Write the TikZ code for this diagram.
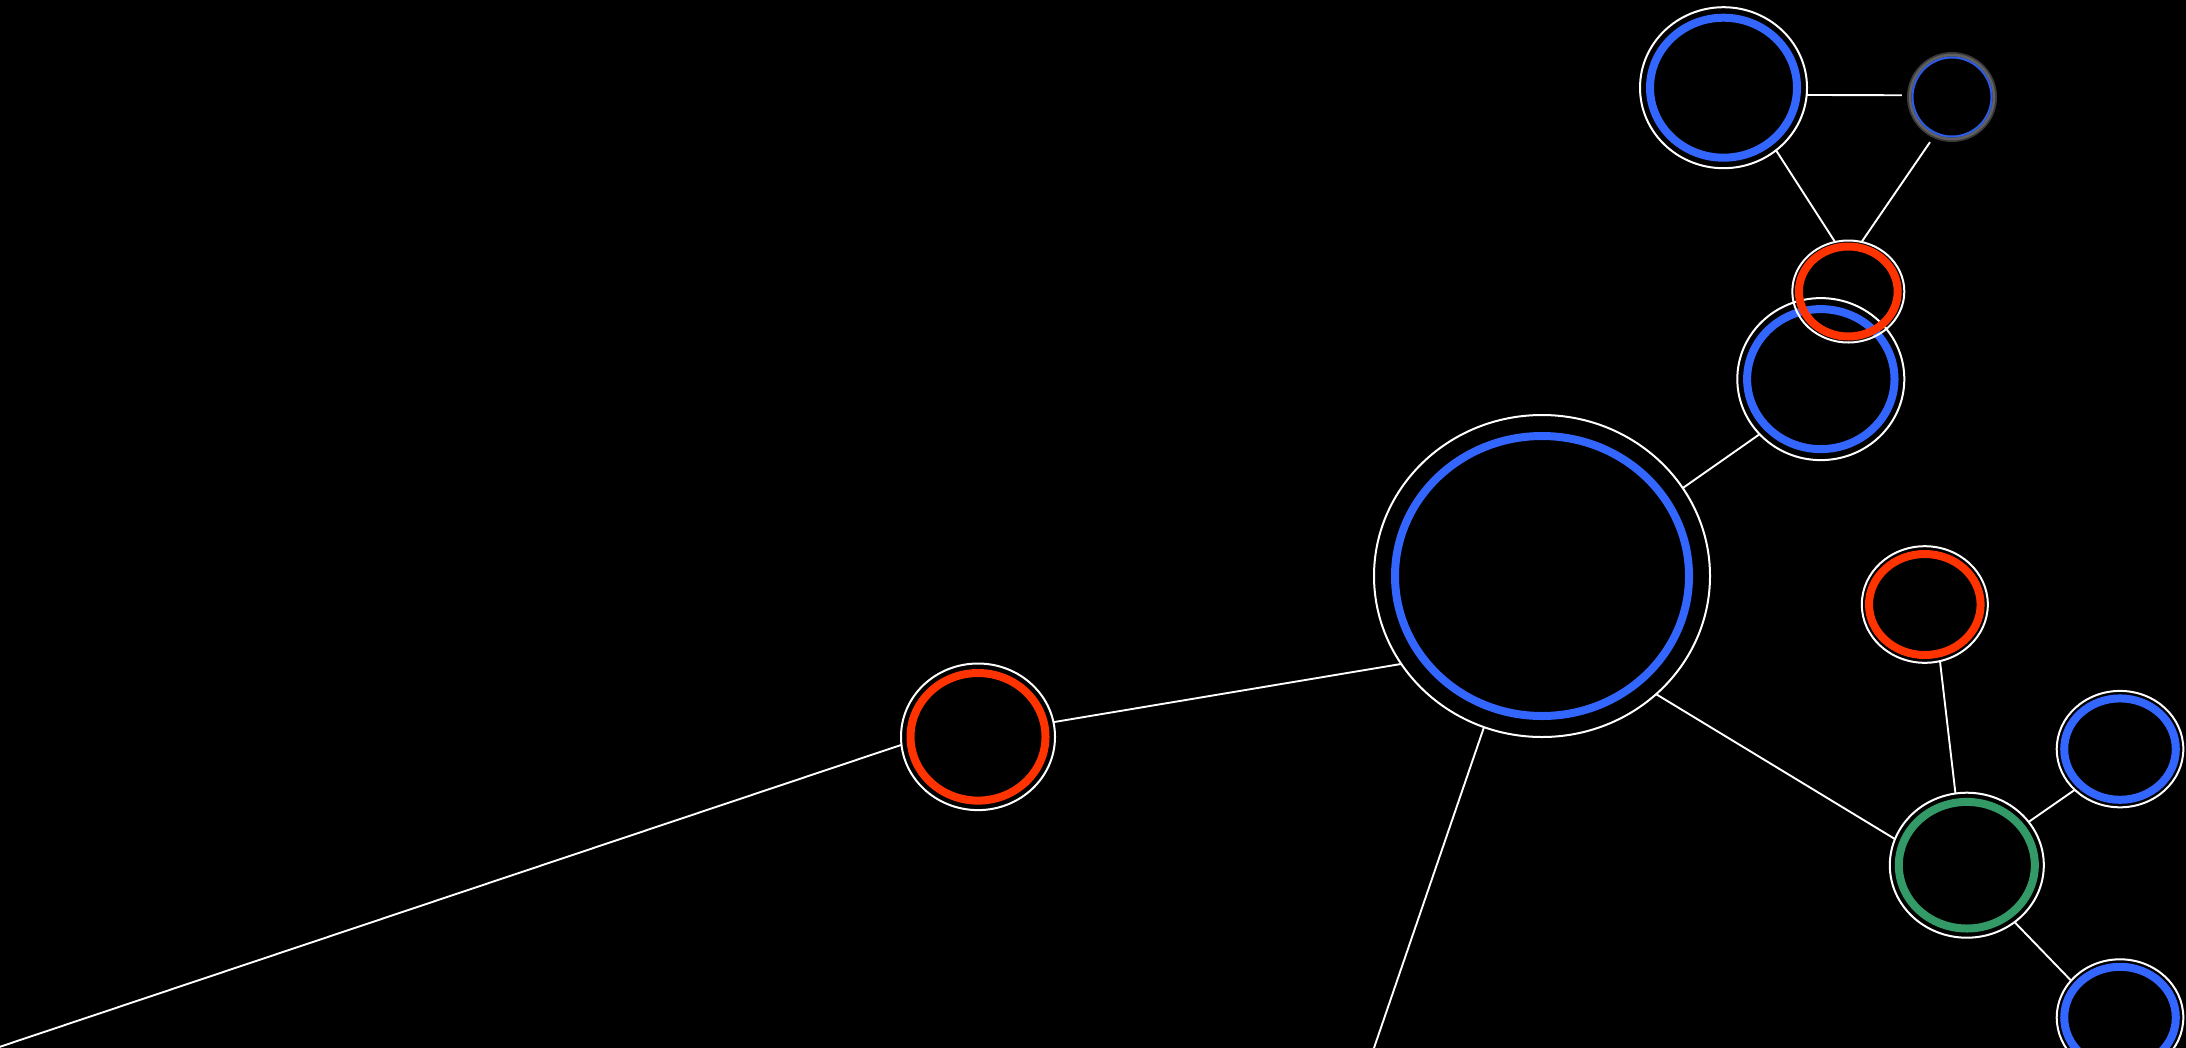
\documentclass[tikz,border=0pt]{standalone}
\usetikzlibrary{shapes.geometric}
\definecolor{nblue}{RGB}{51,102,255}
\definecolor{nred}{RGB}{255,51,0}
\definecolor{ngreen}{RGB}{51,153,102}
\definecolor{dimgray}{RGB}{58,58,58}
\definecolor{midgray}{RGB}{96,96,96}
\definecolor{dimblue}{RGB}{45,92,235}
\begin{document}
\begin{tikzpicture}[x=1pt,y=-1pt,
  wring/.style={ellipse, draw=white, line width=2pt, inner sep=0pt, outer sep=0pt},
  bluering/.style={draw=nblue, line width=8pt},
  redring/.style={draw=nred, line width=8pt},
  greenring/.style={draw=ngreen, line width=8pt},
  link/.style={draw=white, line width=1.9pt}]
\useasboundingbox (0,0) rectangle (2186,1047);
\fill[black] (-10,-10) rectangle (2196,1057);
\clip (-10,-10) rectangle (2196,1057);

% top blue
\node[wring, minimum width=167pt, minimum height=161pt] (bt) at (1723.5,87.7) {};
\path[bluering] (bt.center) ellipse [x radius=73.5pt, y radius=70pt];

% small faded node
\node[circle, minimum size=100pt, inner sep=0pt] (sm) at (1952,97) {};
\path[draw=dimgray, line width=6pt] (sm.center) circle [radius=42pt];
\path[draw=midgray, line width=2.5pt] (sm.center) circle [radius=42pt];
\path[draw=dimblue, line width=2pt] (sm.center) circle [radius=39.5pt];

% middle blue (under the red)
\node[wring, minimum width=167pt, minimum height=162pt] (bm) at (1820.8,379.1) {};
\path[bluering] (bm.center) ellipse [x radius=73.7pt, y radius=70pt];

% upper red
\node[wring, minimum width=112pt, minimum height=102pt] (ru) at (1848.3,291.5) {};
\path[redring] (ru.center) ellipse [x radius=49.4pt, y radius=45pt];

% big central blue
\node[wring, minimum width=336pt, minimum height=322pt] (bc) at (1542,576) {};
\path[bluering] (bc.center) ellipse [x radius=147pt, y radius=140pt];

% left red
\node[wring, minimum width=154pt, minimum height=146.6pt] (lr) at (978,736.8) {};
\path[redring] (lr.center) ellipse [x radius=67.5pt, y radius=63.8pt];

% right red
\node[wring, minimum width=126pt, minimum height=116.6pt] (rr) at (1924.8,604.5) {};
\path[redring] (rr.center) ellipse [x radius=55.8pt, y radius=50.5pt];

% green
\node[wring, minimum width=154pt, minimum height=145pt] (gn) at (1966.8,865.2) {};
\path[greenring] (gn.center) ellipse [x radius=68pt, y radius=63.3pt];

% blue upper right
\node[wring, minimum width=126.6pt, minimum height=116.4pt] (bu) at (2120,749.1) {};
\path[bluering] (bu.center) ellipse [x radius=55.8pt, y radius=50.7pt];

% blue bottom right
\node[wring, minimum width=126.6pt, minimum height=116.4pt] (bb) at (2120,1017.5) {};
\path[bluering] (bb.center) ellipse [x radius=55.8pt, y radius=50.7pt];

% free ends
\coordinate (offL) at (-30,1056.8);
\coordinate (offB) at (1363,1080);

% connectors
\draw[link] (bt.355) -- (sm.178);
\draw[link] (bt.310) -- (ru.105);
\draw[link] (sm.244) -- (ru.75);
\draw[link] (bc.32) -- (bm.222);
\draw[link] (bc.212) -- (lr.11);
\draw[link] (lr.186) -- (offL);
\draw[link] (bc.249) -- (offB);
\draw[link] (bc.314) -- (gn.160);
\draw[link] (rr.285) -- (gn.99);
\draw[link] (gn.35) -- (bu.222);
\draw[link] (gn.310) -- (bb.143);
\end{tikzpicture}
\end{document}
